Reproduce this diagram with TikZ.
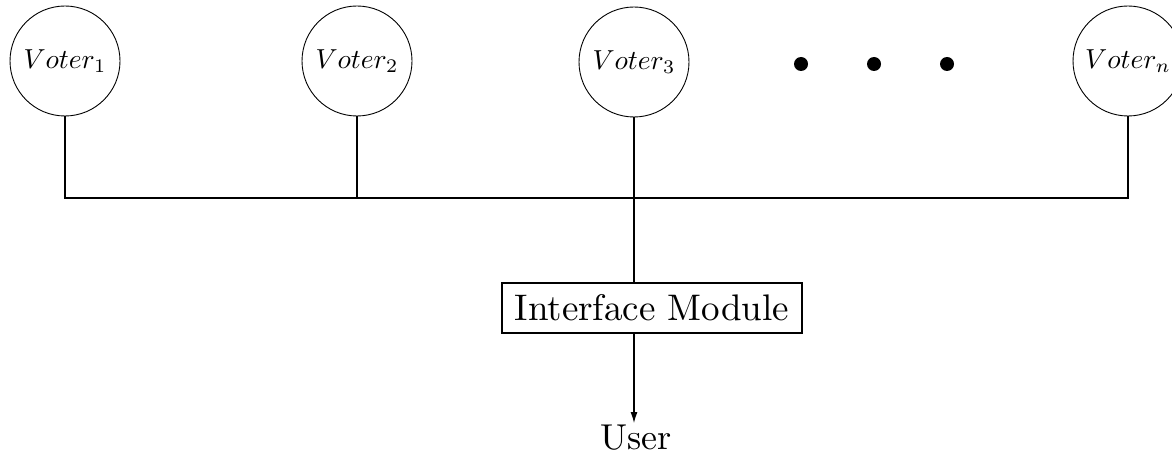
\documentclass[tikz,border=0pt]{standalone}
\usetikzlibrary{arrows.meta}
\newcommand{\bigtext}[2]{\scalebox{#1}{#2}}
\begin{document}
\begin{tikzpicture}[x=1pt,y=-1pt,line width=1.1pt,
  voter/.style={draw,circle,line width=0.9pt,minimum size=110pt,inner sep=0pt},
  module/.style={draw,minimum width=300pt,minimum height=50pt,inner sep=0pt},
  plain/.style={inner sep=0pt},
  dot/.style={fill,circle,minimum size=14pt,inner sep=0pt}]
\useasboundingbox (0,0) rectangle (1172,457);
\clip (0,0) rectangle (1172,457);
\node[voter] (v1) at (65,61) {\bigtext{2.75}{$Voter_1$}};
\node[voter] (v2) at (357,61) {\bigtext{2.75}{$Voter_2$}};
\node[voter] (v3) at (634,62) {\bigtext{2.75}{$Voter_3$}};
\node[voter] (vn) at (1128,61) {\bigtext{2.75}{$Voter_n$}};
\node[dot] (d1) at (801,64) {};
\node[dot] (d2) at (874,64) {};
\node[dot] (d3) at (947,64) {};
\coordinate (busy) at (0,198);
\coordinate (b1) at (v1.south |- busy);
\coordinate (bn) at (vn.south |- busy);
\node[module] (im) at (652,308) {\bigtext{3.7}{Interface Module}};
\node[plain,anchor=base] (user) at (636,449) {\bigtext{3.6}{User}};
\draw (v1.south) -- (b1) -- (bn) -- (vn.south);
\draw (v2.south) -- (v2.south |- busy);
\draw (v3.south) -- (v3.south |- im.north);
\draw[-{Latex[length=11pt,width=7pt]}] (v3.south |- im.south) -- (v3.south |- 0,423);
\end{tikzpicture}
\end{document}
